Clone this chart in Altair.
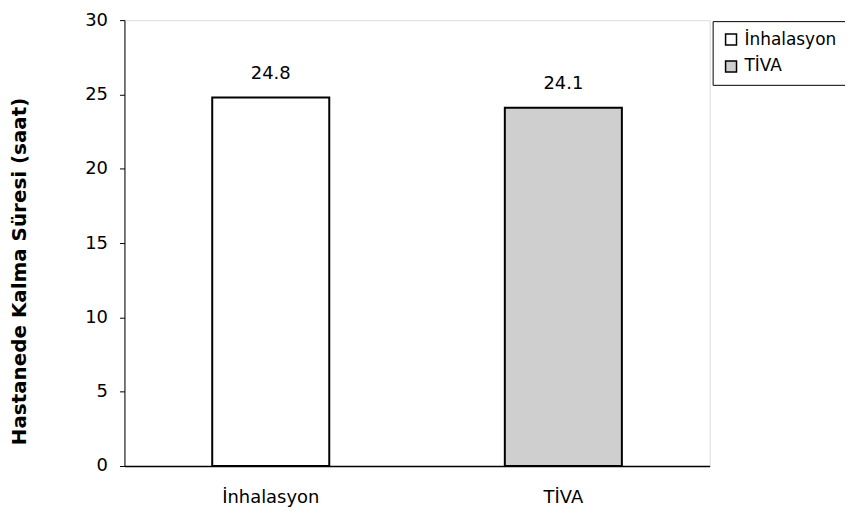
import altair as alt
import pandas as pd

groups = ["İnhalasyon", "TİVA"]
values = [24.8, 24.1]
labels = ["24.8", "24.1"]
fills = ["#ffffff", "#cfcfcf"]

df = pd.DataFrame({"grup": groups, "deger": values, "etiket": labels})

FONT = "DejaVu Sans"

x = alt.X("grup:N", sort=groups,
          scale=alt.Scale(paddingInner=0.6, paddingOuter=0.3),
          axis=alt.Axis(title=None, labelAngle=0, ticks=False, labelFontSize=18,
                        labelBaseline="alphabetic", labelPadding=37,
                        labelColor="black", labelFont=FONT,
                        domainColor="black", domainWidth=1.5))
y = alt.Y("deger:Q", scale=alt.Scale(domain=[0, 30]),
          axis=alt.Axis(title="Hastanede Kalma Süresi (saat)", values=[0, 5, 10, 15, 20, 25, 30],
                        grid=False, tickSize=5, tickColor="black", domainColor="black",
                        labelFontSize=18, labelColor="black", labelFont=FONT, labelPadding=12,
                        titleFontSize=20, titleFont=FONT, titleFontWeight="bold",
                        titleColor="black", titlePadding=56, titleY=252, titleLimit=500))

bars = alt.Chart(df).mark_bar(stroke="black", strokeWidth=2).encode(
    x=x, y=y,
    fill=alt.Fill("grup:N", sort=groups,
                  scale=alt.Scale(domain=groups, range=fills),
                  legend=alt.Legend(title=None, orient="none", legendX=591, legendY=1,
                                    symbolType="square", symbolSize=121, symbolStrokeColor="black",
                                    symbolStrokeWidth=1.5, labelFontSize=17, labelFont=FONT,
                                    labelColor="black", rowPadding=9, padding=10, labelOffset=5,
                                    strokeColor="black", fillColor="white", labelLimit=300))
)

text = alt.Chart(df).mark_text(dy=-19, baseline="alphabetic", fontSize=18, font=FONT,
                               color="black").encode(
    x=alt.X("grup:N", sort=groups), y="deger:Q", text="etiket:N"
)

chart = alt.layer(bars, text).properties(
    width=588, height=448,
    padding={"left": 117, "top": 11, "right": 136, "bottom": 42},
    autosize=alt.AutoSizeParams(type="none"),
).configure_view(stroke=None).configure(background="white")

chart.save("out.html", embed_options={"renderer": "svg", "actions": False})
